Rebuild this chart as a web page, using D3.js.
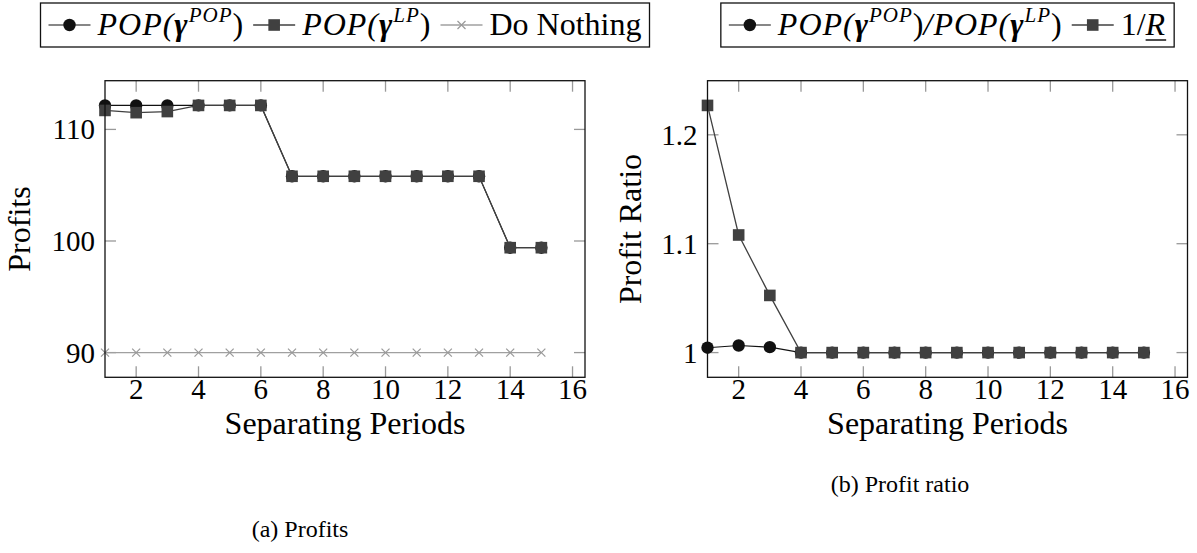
<!DOCTYPE html>
<html>
<head>
<meta charset="utf-8">
<script src="https://cdn.jsdelivr.net/npm/d3@7"></script>
<style>
  html, body { margin: 0; padding: 0; background: #fff; }
  svg { display: block; }
</style>
</head>
<body>
<svg id="chart" width="1197" height="553"></svg>
<script>
// Data.
const periods = [1, 2, 3, 4, 5, 6, 7, 8, 9, 10, 11, 12, 13, 14, 15];
const profitPOP = [112.15, 112.15, 112.15, 112.15, 112.15, 112.15, 105.8, 105.8, 105.8, 105.8, 105.8, 105.8, 105.8, 99.4, 99.4];
const profitLP = [111.7, 111.5, 111.6, 112.15, 112.15, 112.15, 105.8, 105.8, 105.8, 105.8, 105.8, 105.8, 105.8, 99.4, 99.4];
const profitNothing = [90, 90, 90, 90, 90, 90, 90, 90, 90, 90, 90, 90, 90, 90, 90];
const ratioPOP = [1.0045, 1.0065, 1.005, 1, 1, 1, 1, 1, 1, 1, 1, 1, 1, 1, 1];
const ratioBound = [1.227, 1.108, 1.0525, 1, 1, 1, 1, 1, 1, 1, 1, 1, 1, 1, 1];
const xTicks = [2, 4, 6, 8, 10, 12, 14, 16];
const profitTicks = [90, 100, 110];
const ratioTicks = [1, 1.1, 1.2];

const svg = d3.select("#chart")
  .attr("font-family", "'Liberation Serif', 'DejaVu Serif', serif");
const NUM_FONT = 29;   // tick numbers
const FONT = 32;       // words and legend
const plotTop = 80.7, plotBottom = 377.3, plotW = 480;

// pgfplots style: 10% enlargement on y, x fixed at 1 on the left.
function yDomain(seriesList) {
  const ext = d3.extent(seriesList.flat());
  const pad = (ext[1] - ext[0]) * 0.1;
  return [ext[0] - pad, ext[1] + pad];
}

const markers = {
  circle: (g, x, y) => g.append("circle").attr("cx", x).attr("cy", y).attr("r", 6.2).attr("fill", "#111"),
  square: (g, x, y) => g.append("rect").attr("x", x - 5.8).attr("y", y - 5.8)
    .attr("width", 11.6).attr("height", 11.6).attr("fill", "#404040"),
  cross: (g, x, y) => g.append("path")
    .attr("d", `M${x - 4},${y - 4}L${x + 4},${y + 4}M${x - 4},${y + 4}L${x + 4},${y - 4}`)
    .attr("stroke", "#999").attr("stroke-width", 1.2).attr("fill", "none")
};

function drawPanel(left, cfg) {
  const g = svg.append("g");
  const x = d3.scaleLinear().domain([1, 16.4]).range([left, left + plotW]);
  const y = d3.scaleLinear().domain(yDomain(cfg.series.map(s => s.values))).range([plotBottom, plotTop]);

  // ticks, inward on all four sides
  const tickLen = 11;
  const ticks = g.append("g").attr("stroke", "#999").attr("stroke-width", 1.3);
  xTicks.forEach(t => {
    ticks.append("line").attr("x1", x(t)).attr("x2", x(t)).attr("y1", plotBottom).attr("y2", plotBottom - tickLen);
    ticks.append("line").attr("x1", x(t)).attr("x2", x(t)).attr("y1", plotTop).attr("y2", plotTop + tickLen);
  });
  cfg.yTicks.forEach(t => {
    ticks.append("line").attr("x1", left).attr("x2", left + tickLen).attr("y1", y(t)).attr("y2", y(t));
    ticks.append("line").attr("x1", left + plotW).attr("x2", left + plotW - tickLen).attr("y1", y(t)).attr("y2", y(t));
  });

  // tick labels
  g.selectAll(".xl").data(xTicks).enter().append("text")
    .attr("x", d => x(d)).attr("y", plotBottom + 22)
    .attr("text-anchor", "middle").attr("font-size", NUM_FONT).text(d => d);
  g.selectAll(".yl").data(cfg.yTicks).enter().append("text")
    .attr("x", left - 10).attr("y", d => y(d) + 10)
    .attr("text-anchor", "end").attr("font-size", NUM_FONT).text(d => cfg.fmt(d));

  // series
  cfg.series.forEach(s => {
    const pts = periods.map((p, i) => [x(p), y(s.values[i])]);
    g.append("path").attr("d", d3.line()(pts))
      .attr("fill", "none").attr("stroke", s.line).attr("stroke-width", s.width);
    pts.forEach(p => markers[s.marker](g, p[0], p[1]));
  });

  // frame
  g.append("rect").attr("x", left).attr("y", plotTop).attr("width", plotW).attr("height", plotBottom - plotTop)
    .attr("fill", "none").attr("stroke", "#111").attr("stroke-width", 1.3);

  // axis labels
  g.append("text").attr("x", left + plotW / 2).attr("y", plotBottom + 57)
    .attr("text-anchor", "middle").attr("font-size", FONT).text("Separating Periods");
  g.append("text").attr("transform", `translate(${cfg.yLabelX},${(plotTop + plotBottom) / 2}) rotate(-90)`)
    .attr("text-anchor", "middle").attr("font-size", FONT).text(cfg.yLabel);

  // caption
  g.append("text").attr("x", cfg.caption.x).attr("y", cfg.caption.y)
    .attr("text-anchor", "middle").attr("font-size", 24).text(cfg.caption.text);

  drawLegend(left + plotW / 2, cfg.series);
}

// rich text pieces: {t, i: italic, b: bold, sup: superscript, u: underline}
function drawLegend(cx, series) {
  const lg = svg.append("g");
  const box = lg.append("rect").attr("fill", "#fff").attr("stroke", "#111").attr("stroke-width", 1.3);
  const cy = 25;
  let cur = 0;
  const pad = 8;
  series.forEach((s, k) => {
    if (k > 0) cur += 10;
    lg.append("line").attr("x1", cur).attr("x2", cur + 42).attr("y1", cy).attr("y2", cy)
      .attr("stroke", s.line).attr("stroke-width", s.width);
    markers[s.marker](lg, cur + 21, cy);
    cur += 49;
    const txt = lg.append("text").attr("x", cur).attr("y", cy + 10).attr("font-size", FONT);
    let raised = false;
    s.label.forEach(p => {
      const ts = txt.append("tspan").text(p.t)
        .attr("font-style", p.i ? "italic" : "normal")
        .attr("font-weight", p.b ? "bold" : "normal")
        .attr("letter-spacing", p.i ? 1 : 0);
      if (p.sup) {
        ts.attr("font-size", 21);
        if (!raised) { ts.attr("dy", -13); raised = true; }
      } else if (raised) {
        ts.attr("dy", 13); raised = false;
      }
    });
    const node = txt.node();
    s.label.forEach((p, idx) => {
      if (!p.u) return;
      // char offset of this piece, to place an underline under it
      const start = s.label.slice(0, idx).reduce((a, q) => a + q.t.length, 0);
      const x0 = node.getStartPositionOfChar(start).x;
      const w = node.getSubStringLength(start, p.t.length);
      lg.append("line").attr("x1", x0).attr("x2", x0 + w)
        .attr("y1", cy + 15).attr("y2", cy + 15).attr("stroke", "#000").attr("stroke-width", 1.4);
    });
    cur += node.getComputedTextLength();
  });
  const w = cur + 2 * pad;
  box.attr("x", -pad).attr("y", 3).attr("width", w).attr("height", 44);
  lg.attr("transform", `translate(${cx - w / 2 + pad},0)`);
}

const popLabel = [{t: "POP(", i: true}, {t: "γ", i: true, b: true}, {t: "POP", i: true, sup: true}, {t: ")"}];
const lpLabel = [{t: "POP(", i: true}, {t: "γ", i: true, b: true}, {t: "LP", i: true, sup: true}, {t: ")"}];

drawPanel(105, {
  series: [
    {values: profitPOP, marker: "circle", line: "#111", width: 1.1, label: popLabel},
    {values: profitLP, marker: "square", line: "#404040", width: 1.3, label: lpLabel},
    {values: profitNothing, marker: "cross", line: "#a0a0a0", width: 1.3, label: [{t: "Do Nothing"}]}
  ],
  yTicks: profitTicks,
  fmt: d3.format("d"),
  yLabel: "Profits",
  yLabelX: 30,
  caption: {text: "(a) Profits", x: 300, y: 537}
});

drawPanel(707.5, {
  series: [
    {values: ratioPOP, marker: "circle", line: "#111", width: 1.1,
      label: popLabel.concat([{t: "/POP(", i: true}, {t: "γ", i: true, b: true}, {t: "LP", i: true, sup: true}, {t: ")"}])},
    {values: ratioBound, marker: "square", line: "#404040", width: 1.3,
      label: [{t: "1/"}, {t: "R", i: true, u: true}]}
  ],
  yTicks: ratioTicks,
  fmt: d => d === 1 ? "1" : d3.format(".1f")(d),
  yLabel: "Profit Ratio",
  yLabelX: 641,
  caption: {text: "(b) Profit ratio", x: 900, y: 492}
});
</script>
</body>
</html>
